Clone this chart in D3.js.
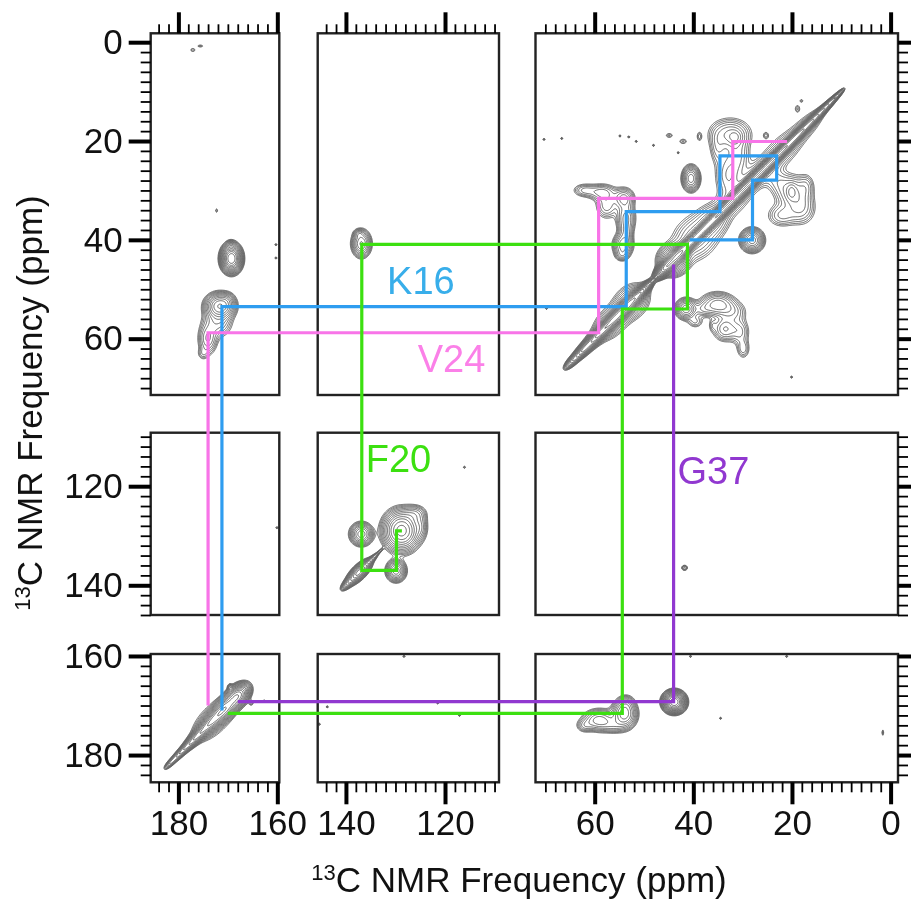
<!DOCTYPE html>
<html>
  <head>
    <meta charset="utf-8">
    <script src="https://cdn.jsdelivr.net/npm/d3@7"></script>
    <title>13C NMR 2D spectrum</title>
    <style>
      body {
        margin: 0px;
        background: #fff;
      }
      svg {
        display: block;
      }
      .domain {
        display: none;
      }
      .tick line {
        stroke: #000;
      }
      .tick text, .axis-label {
        fill: #111;
        font-family: "Liberation Sans", sans-serif;
      }
      .tick text {
        font-size: 35px;
      }
      .axis-label {
        font-size: 35px;
      }
      .contours path {
        fill: none;
        stroke: #606060;
        stroke-width: 1;
      }
      .frame {
        fill: none;
        stroke: #222;
        stroke-width: 2.4;
      }
      .assign {
        fill: none;
        stroke-width: 3.2;
      }
      .res-label {
        font-family: "Liberation Sans", sans-serif;
        font-size: 38px;
      }
    </style>
  </head>
  <body>
    <svg width="911" height="901"></svg>
    <script>

      // panel limits in ppm
      const xPanels = [[185.6, 159.6], [145.7, 109.1], [72, -1.5]];
      const yPanels = [[-1.8, 71.4], [109.2, 146], [159.6, 185.5]];

      const xMajor = [[180, 160], [140, 120], [60, 40, 20, 0]];
      const yMajor = [[0, 20, 40, 60], [120, 140], [160, 180]];
      const xMinor = [
        [184, 182, 178, 176, 174, 172, 170, 168, 166, 164, 162],
        [144, 142, 138, 136, 134, 132, 130, 128, 126, 124, 122, 118, 116, 114, 112, 110],
        [70, 68, 66, 64, 62, 58, 56, 54, 52, 50, 48, 46, 44, 42, 38, 36, 34, 32, 30, 28, 26, 24, 22, 18, 16, 14, 12, 10, 8, 6, 4, 2]
      ];
      const yMinor = [
        [2, 4, 6, 8, 10, 12, 14, 16, 18, 22, 24, 26, 28, 30, 32, 34, 36, 38, 42, 44, 46, 48, 50, 52, 54, 56, 58, 62, 64, 66, 68, 70],
        [110, 112, 114, 116, 118, 122, 124, 126, 128, 130, 132, 134, 136, 138, 142, 144, 146],
        [162, 164, 166, 168, 170, 172, 174, 176, 178, 182, 184]
      ];

      // contour levels, same for the whole spectrum
      const levels = [1, 1.3, 1.7, 2.2, 2.9, 3.8, 5, 6.6, 8.7, 11.5, 15, 20, 26, 34, 45, 60, 80];

      // diagonal ridge: ppm, width along, width across, height
      const diagonalPeaks = [
        [64.3, 1.2, 0.42, 12], [62, 1.5, 0.45, 35], [59, 1.8, 0.5, 60], [56, 2, 0.55, 80],
        [53, 2, 0.6, 80], [50.5, 1.5, 0.4, 40], [47.8, 0.9, 0.16, 8], [45.5, 1.3, 0.55, 60],
        [43, 1.8, 0.6, 70], [40, 2, 0.5, 60], [37, 2, 0.5, 60], [34, 2, 0.5, 70],
        [31, 2, 0.5, 70], [28, 2, 0.5, 70], [25, 2, 0.48, 70], [22, 2, 0.45, 70],
        [19, 2, 0.42, 60], [16, 2, 0.38, 40], [13, 1.8, 0.32, 20], [10.8, 1, 0.22, 10],
        [60, 3, 0.9, 3], [56.5, 2.5, 1.5, 6], [52.5, 2.2, 1.7, 7], [44, 1.6, 1.5, 16], [39.5, 3, 2.4, 5],
        [36, 2, 1.8, 4], [32, 3, 1.7, 3], [27, 3, 1.4, 3], [22, 3.5, 1.6, 3.5], [17, 3, 1.1, 3],
        [139.5, 1, 0.42, 8], [137.3, 1.5, 0.6, 30], [135, 1.2, 0.3, 6], [133.3, 0.8, 0.14, 3],
        [181.5, 0.9, 0.3, 5], [179, 2, 0.38, 12], [176, 2, 0.5, 25], [173, 2, 0.7, 40],
        [170.5, 1.8, 0.85, 50], [168, 1.4, 0.9, 40], [173, 3, 1.6, 4]
      ];

      // cross peaks: x ppm, y ppm, x width, y width, height
      const crossPeaks = [
        [40.4, 27.5, 0.9, 1.3, 14], [28, 40, 1.15, 1.15, 18],
        [32.5, 18.5, 2.4, 1.8, 5], [31.5, 19.2, 0.8, 0.8, 3], [35, 21.5, 1, 2, 2.2], [31, 23, 1.6, 2.5, 3], [33, 27, 1.5, 2.5, 3.5],
        [25.2, 18.8, 0.4, 0.5, 2], [18.8, 13.4, 0.4, 0.6, 1.8], [18, 11.8, 0.3, 0.3, 1.5],
        [20, 30.2, 2, 2, 4.5], [20, 30.2, 0.6, 1, 3], [18, 33.5, 1.7, 2, 3.5], [22, 35, 1.8, 1.4, 3], [17, 29, 1, 1.5, 2], [23, 28, 1.5, 1.5, 1.8],
        [62, 29.9, 1.4, 0.8, 3], [58.5, 30.3, 1.7, 1, 4], [57.5, 33, 1.3, 1.6, 3.5], [54, 31.5, 1.2, 1.2, 5.5],
        [53.6, 35.5, 1.1, 1.9, 5.5], [54.2, 41, 1.1, 1.3, 8], [53.6, 38.5, 0.8, 1.3, 3], [54.4, 43, 0.8, 0.7, 3],
        [41.4, 53.9, 1.1, 1.1, 11], [38, 54, 1.2, 0.9, 2.5], [35, 53, 1.9, 1.3, 8], [32, 54.5, 1.7, 1.3, 3],
        [33.5, 58, 1.4, 1.4, 5], [30.5, 58.5, 1.2, 1.6, 3], [29.8, 62, 0.8, 1.2, 2.6], [36, 57.2, 0.5, 0.8, 1.4], [39.5, 56.5, 1, 0.8, 2.2],
        [44.8, 18.8, 0.55, 0.35, 1.8], [42, 20, 0.6, 0.4, 1.8], [38.7, 19, 0.35, 0.65, 1.9],
        [136.8, 40.7, 1, 1.4, 12], [137.3, 38.7, 0.6, 0.5, 3],
        [136.8, 129.6, 1.15, 1.15, 14], [128.7, 128.9, 1.8, 2, 30], [126, 125.5, 1.3, 1, 4], [124.8, 128, 0.8, 1.5, 3],
        [129.8, 137, 1, 1.1, 14],
        [169.2, 43.7, 0.95, 1.3, 60], [169.3, 41, 0.5, 0.5, 4],
        [171.5, 53.3, 1.5, 1.3, 20], [172, 56.5, 1.7, 1.8, 4.5], [174, 60, 1.1, 1.8, 5], [175, 63, 0.7, 0.8, 1.5], [170, 52, 0.8, 0.8, 2],
        [172.2, 34, 0.2, 0.35, 1.6], [177, 1.5, 0.4, 0.3, 1.7], [175.5, 0.7, 0.5, 0.2, 1.6],
        [43.8, 169.2, 1, 0.95, 80],
        [53.9, 171.6, 1.3, 1.5, 14], [53.5, 169.5, 0.9, 0.9, 3], [59, 172.9, 1.8, 1.2, 8], [62, 174, 1, 0.8, 2.5], [56, 174, 1.5, 0.9, 3],
        [165.2, 169.4, 0.35, 0.4, 1.8], [169.5, 166.2, 0.3, 0.4, 3],
        [41.7, 136.4, 0.4, 0.35, 3], [1.5, 175.4, 0.15, 0.5, 1.8]
      ];

      // single noise dots
      const speckles = [
        [66.6, 19.4], [70.2, 19.6], [54.8, 18.9], [53, 19.1], [51.5, 20], [48, 20.8], [43, 22.3], [20, 67.7],
        [116, 116.1], [160, 128.3], [169.4, 146.5], [160.2, 40.9], [160.2, 43.6],
        [162.6, 169], [143.7, 170.2], [121.4, 169.4], [117, 171.9], [145.3, 173.7], [128.2, 160],
        [40.5, 160], [21, 160], [34.4, 172.5], [69.7, 53.8]
      ];

      // assignment walks in ppm
      const k16 = [[171.2, 171], [171.2, 53.5], [53.6, 53.5], [53.6, 34.3], [34.6, 34.3], [34.6, 23], [23.1, 23], [23.1, 27.9], [28, 27.9], [28, 40], [40.7, 40]];
      const v24 = [[174, 170], [174, 58.8], [59.2, 58.8], [59.2, 31.6], [32, 31.6], [32, 20.1], [21, 20.1]];
      const f20 = [[128.7, 129], [129.8, 129], [129.8, 137], [136.8, 137], [136.8, 40.9], [41.2, 40.9], [41.2, 54], [54.4, 54], [54.4, 171.6], [170, 171.6]];
      const g37 = [[44, 45], [44, 169.2], [168, 169.2]];

      const walks = [
        { points: k16, color: '#2e9df0' },
        { points: v24, color: '#f874e8' },
        { points: f20, color: '#3ce010' },
        { points: g37, color: '#9138d0' }
      ];

      const resLabels = [
        { text: 'K16', ppm: [131.7, 51], color: '#38aeea' },
        { text: 'V24', ppm: [125.5, 66.8], color: '#fb80e8' },
        { text: 'F20', ppm: [136, 117.2], color: '#3ce010' },
        { text: 'G37', ppm: [43.2, 119.6], color: '#9138d0' }
      ];

      const svg = d3.select('svg');

      // one piecewise scale per direction, it jumps over the gaps between panels
      const xScale = d3.scaleLinear()
        .domain([185.6, 159.6, 145.7, 109.1, 72, -1.5])
        .range([150.7, 279.3, 317.7, 499, 535.5, 898]);
      const yScale = d3.scaleLinear()
        .domain([-1.8, 71.4, 109.2, 146, 159.6, 185.5])
        .range([33.3, 395, 432.7, 615, 654, 782.3]);

      const leftEdge = xScale(xPanels[0][0]);
      const rightEdge = xScale(xPanels[2][1]);
      const topEdge = yScale(yPanels[0][0]);
      const bottomEdge = yScale(yPanels[2][1]);

      const step = 0.15;
      const root = svg.append('g').style('filter', 'blur(0.5px)');

      // peak table in one shape: x, y, cos, sin, along, across, height
      const rad = Math.SQRT1_2;
      const peaks = [
        ...diagonalPeaks.map(d => [d[0], d[0], rad, rad, d[1], d[2], d[3]]),
        ...crossPeaks.map(d => [d[0], d[1], 1, 0, d[2], d[3], d[4]]),
        ...speckles.map(d => [d[0], d[1], 1, 0, 0.16, 0.16, 2.2])
      ];

      const drawPanel = (xr, yr) => {
        const x0 = xr[1], y0 = yr[0];
        const n = Math.round((xr[0] - xr[1]) / step) + 1;
        const m = Math.round((yr[1] - yr[0]) / step) + 1;
        const grid = new Float64Array(n * m);

        peaks.forEach(p => {
          const reach = 4.5 * Math.max(p[4], p[5]);
          const iMin = Math.max(0, Math.floor((p[0] - reach - x0) / step));
          const iMax = Math.min(n - 1, Math.ceil((p[0] + reach - x0) / step));
          const jMin = Math.max(0, Math.floor((p[1] - reach - y0) / step));
          const jMax = Math.min(m - 1, Math.ceil((p[1] + reach - y0) / step));
          for (let j = jMin; j <= jMax; j++) {
            for (let i = iMin; i <= iMax; i++) {
              const dx = x0 + i * step - p[0];
              const dy = y0 + j * step - p[1];
              const u = (dx * p[2] + dy * p[3]) / p[4];
              const v = (dy * p[2] - dx * p[3]) / p[5];
              grid[j * n + i] += p[6] * Math.exp(-(u * u + v * v) / 2);
            }
          }
        });

        const toPage = d3.geoTransform({
          point(i, j) {
            this.stream.point(xScale(x0 + i * step), yScale(y0 + j * step));
          }
        });
        const path = d3.geoPath(toPage);
        root.append('g')
            .attr('class', 'contours')
          .selectAll('path')
          .data(d3.contours().size([n, m]).thresholds(levels)(grid))
          .enter().append('path')
            .attr('d', path);
      };

      xPanels.forEach(xr => yPanels.forEach(yr => drawPanel(xr, yr)));

      // panel frames
      xPanels.forEach(xr => yPanels.forEach(yr => {
        root.append('rect')
            .attr('class', 'frame')
            .attr('x', xScale(xr[0]))
            .attr('y', yScale(yr[0]))
            .attr('width', xScale(xr[1]) - xScale(xr[0]))
            .attr('height', yScale(yr[1]) - yScale(yr[0]));
      }));

      // ticks
      const tickGroup = (axis, dx, dy, width) => {
        const g = root.append('g')
            .attr('transform', `translate(${dx},${dy})`)
            .call(axis);
        g.selectAll('.tick line').attr('stroke-width', width);
        return g;
      };

      xPanels.forEach((xr, i) => {
        tickGroup(d3.axisTop(xScale).tickValues(xMinor[i]).tickSize(9).tickFormat(''), 0, topEdge, 1.8);
        tickGroup(d3.axisTop(xScale).tickValues(xMajor[i]).tickSize(21).tickFormat(''), 0, topEdge, 4);
        tickGroup(d3.axisBottom(xScale).tickValues(xMinor[i]).tickSize(10).tickFormat(''), 0, bottomEdge, 1.8);
        tickGroup(d3.axisBottom(xScale).tickValues(xMajor[i]).tickSize(22).tickPadding(6).tickFormat(d3.format('d')), 0, bottomEdge, 4);
      });

      yPanels.forEach((yr, i) => {
        tickGroup(d3.axisLeft(yScale).tickValues(yMinor[i]).tickSize(10).tickFormat(''), leftEdge, 0, 1.8);
        tickGroup(d3.axisLeft(yScale).tickValues(yMajor[i]).tickSize(22).tickPadding(6).tickFormat(d3.format('d')), leftEdge, 0, 4);
        tickGroup(d3.axisRight(yScale).tickValues(yMinor[i]).tickSize(10).tickFormat(''), rightEdge, 0, 1.8);
        tickGroup(d3.axisRight(yScale).tickValues(yMajor[i]).tickSize(22).tickFormat(''), rightEdge, 0, 4);
      });

      // assignment lines
      const walkLine = d3.line().x(d => xScale(d[0])).y(d => yScale(d[1]));
      root.selectAll('.assign')
        .data(walks)
        .enter().append('path')
          .attr('class', 'assign')
          .attr('stroke', d => d.color)
          .attr('d', d => walkLine(d.points));

      root.selectAll('.res-label')
        .data(resLabels)
        .enter().append('text')
          .attr('class', 'res-label')
          .attr('x', d => xScale(d.ppm[0]))
          .attr('y', d => yScale(d.ppm[1]))
          .attr('fill', d => d.color)
          .text(d => d.text);

      // axis titles
      const addTitle = text => {
        text.append('tspan').attr('font-size', 22).attr('dy', -12).text('13');
        text.append('tspan').attr('dy', 12).text('C NMR Frequency (ppm)');
      };
      root.append('text')
          .attr('class', 'axis-label')
          .attr('x', 519)
          .attr('y', 892)
          .attr('text-anchor', 'middle')
          .call(addTitle);
      root.append('text')
          .attr('class', 'axis-label')
          .attr('transform', 'translate(42,403) rotate(-90)')
          .attr('text-anchor', 'middle')
          .call(addTitle);
    </script>
  </body>
</html>
